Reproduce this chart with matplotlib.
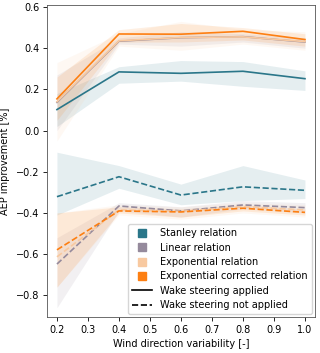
import numpy as np
import matplotlib.pyplot as plt
from matplotlib.lines import Line2D

plt.rcParams['font.size'] = 7

# wind direction variability
x = [0.2, 0.4, 0.6, 0.8, 1.0]

labels = ["Stanley relation", "Linear relation", "Exponential relation",
          "Exponential corrected relation"]
colors = ["#2a7689", "#958a9c", "#f8c9a0", "#fd7f12"]

# wake steering applied: mean, lower, upper
appl_mean = [
    [0.102, 0.285, 0.278, 0.288, 0.252],
    [0.137, 0.434, 0.451, 0.456, 0.430],
    [0.140, 0.436, 0.452, 0.455, 0.432],
    [0.154, 0.469, 0.468, 0.482, 0.442],
]
appl_lo = [
    [0.02, 0.23, 0.24, 0.215, 0.195],
    [0.00, 0.42, 0.41, 0.43, 0.40],
    [-0.05, 0.41, 0.39, 0.42, 0.39],
    [0.05, 0.43, 0.43, 0.44, 0.41],
]
appl_hi = [
    [0.18, 0.31, 0.34, 0.335, 0.29],
    [0.27, 0.45, 0.48, 0.47, 0.45],
    [0.33, 0.47, 0.53, 0.49, 0.48],
    [0.26, 0.49, 0.52, 0.50, 0.47],
]

# wake steering not applied: mean, lower, upper
nona_mean = [
    [-0.321, -0.224, -0.313, -0.273, -0.290],
    [-0.648, -0.366, -0.390, -0.361, -0.374],
    [-0.613, -0.385, -0.392, -0.370, -0.385],
    [-0.579, -0.390, -0.395, -0.377, -0.397],
]
nona_lo = [
    [-0.41, -0.28, -0.36, -0.34, -0.33],
    [-0.86, -0.39, -0.42, -0.38, -0.40],
    [-0.76, -0.41, -0.43, -0.40, -0.42],
    [-0.76, -0.40, -0.42, -0.39, -0.41],
]
nona_hi = [
    [-0.105, -0.17, -0.26, -0.17, -0.24],
    [-0.52, -0.35, -0.37, -0.34, -0.35],
    [-0.40, -0.36, -0.37, -0.35, -0.36],
    [-0.40, -0.37, -0.38, -0.36, -0.38],
]

fig = plt.figure(figsize=(3.2, 3.53), dpi=100)
ax = fig.add_axes([0.147, 0.102, 0.837, 0.884])

for i, c in enumerate(colors):
    ax.fill_between(x, appl_lo[i], appl_hi[i], color=c, alpha=0.12, lw=0)
    ax.fill_between(x, nona_lo[i], nona_hi[i], color=c, alpha=0.12, lw=0)
for i, c in enumerate(colors):
    ax.plot(x, appl_mean[i], color=c, lw=1.2)
    ax.plot(x, nona_mean[i], color=c, lw=1.2, ls="--")

ax.set_xlim(0.168, 1.032)
ax.set_ylim(-0.905, 0.61)
ax.set_xticks([0.2, 0.3, 0.4, 0.5, 0.6, 0.7, 0.8, 0.9, 1.0])
ax.tick_params(length=3, width=0.6, pad=2.5)
ax.set_xlabel("Wind direction variability [-]", labelpad=3)
ax.set_ylabel("AEP improvement [%]", labelpad=4)
for s in ax.spines.values():
    s.set_color("#555555")
    s.set_linewidth(0.6)

handles = [Line2D([], [], marker="s", ls="none", color=c, markersize=5.5) for c in colors]
handles += [Line2D([], [], color="black", lw=1.2),
            Line2D([], [], color="black", lw=1.2, ls="--")]
ax.legend(handles, labels + ["Wake steering applied", "Wake steering not applied"],
          loc="lower right", handlelength=2.0, labelspacing=0.45, borderpad=0.4,
          handletextpad=0.9, borderaxespad=0.3)

fig.savefig("out.png", dpi=100)
